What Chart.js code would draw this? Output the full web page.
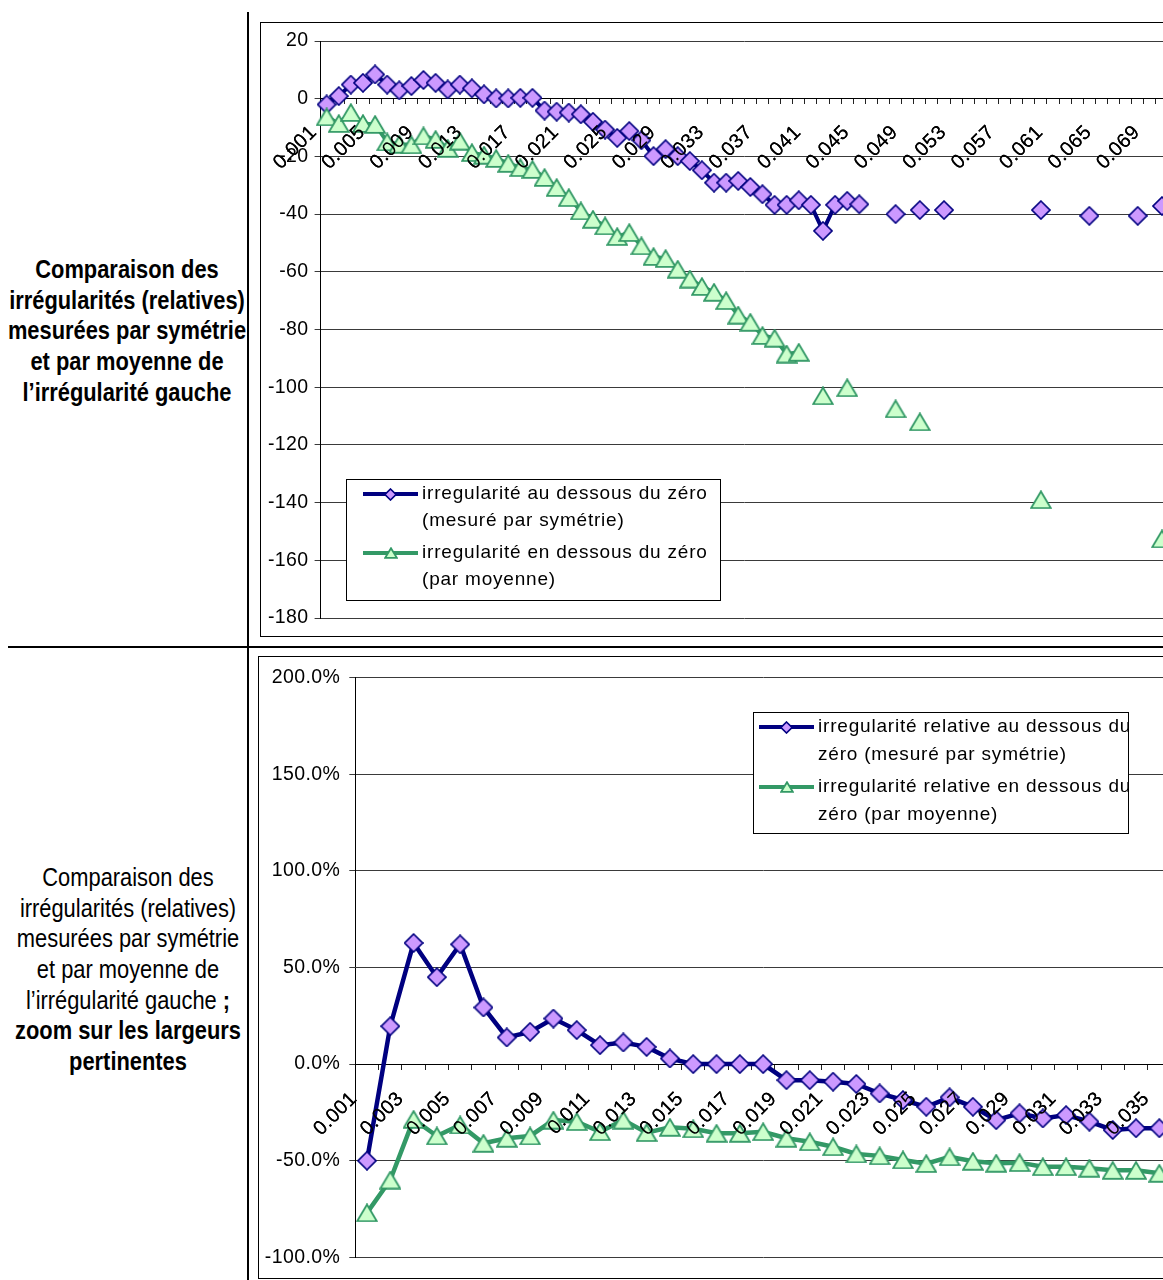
<!DOCTYPE html>
<html>
<head>
<meta charset="utf-8">
<script src="https://cdn.jsdelivr.net/npm/chart.js@4/dist/chart.umd.min.js"></script>
<style>
html, body { margin: 0; padding: 0; background: #fff; overflow: hidden; }
#page { position: relative; width: 1163px; height: 1280px; overflow: hidden; }
.vline { position: absolute; left: 247px; top: 12px; width: 2px; height: 1268px; background: #000; }
.hline { position: absolute; left: 8px; top: 646px; width: 1155px; height: 2px; background: #000; }
.side { position: absolute; width: 340px; text-align: center; white-space: nowrap;
  font-family: "Liberation Sans", Arial, sans-serif; font-size: 26.67px; line-height: 30.67px;
  color: #000; transform: scaleX(0.82); transform-origin: 50% 0; }
.box { position: absolute; border: 1px solid #000; background: #fff; }
.box canvas { display: block; }
</style>
</head>
<body>
<div id="page">
  <div class="side" style="left:-43px; top:254px; font-weight:bold;">Comparaison des<br>irrégularités (relatives)<br>mesurées par symétrie<br>et par moyenne de<br>l’irrégularité gauche</div>
  <div class="side" style="left:-42px; top:862px;">Comparaison des<br>irrégularités (relatives)<br>mesurées par symétrie<br>et par moyenne de<br>l’irrégularité gauche <b>;</b><br><b>zoom sur les largeurs</b><br><b>pertinentes</b></div>
  <div class="vline"></div>
  <div class="hline"></div>
  <div class="box" style="left:260px; top:22px;"><canvas id="chart1" width="1000" height="613"></canvas></div>
  <div class="box" style="left:258px; top:656px;"><canvas id="chart2" width="1000" height="621"></canvas></div>
</div>
<script>
// largeurs (axe des categories)
var largeurs1 = ['0.001','0.002','0.003','0.004','0.005','0.006','0.007','0.008','0.009','0.010',
  '0.011','0.012','0.013','0.014','0.015','0.016','0.017','0.018','0.019','0.020',
  '0.021','0.022','0.023','0.024','0.025','0.026','0.027','0.028','0.029','0.030',
  '0.031','0.032','0.033','0.034','0.035','0.036','0.037','0.038','0.039','0.040',
  '0.041','0.042','0.043','0.044','0.045','0.046','0.047','0.048','0.049','0.050',
  '0.051','0.052','0.053','0.054','0.055','0.056','0.057','0.058','0.059','0.060',
  '0.061','0.062','0.063','0.064','0.065','0.066','0.067','0.068','0.069','0.070'];
var largeurs2 = ['0.001','0.002','0.003','0.004','0.005','0.006','0.007','0.008','0.009','0.010',
  '0.011','0.012','0.013','0.014','0.015','0.016','0.017','0.018','0.019','0.020',
  '0.021','0.022','0.023','0.024','0.025','0.026','0.027','0.028','0.029','0.030',
  '0.031','0.032','0.033','0.034','0.035'];

// graphique du haut : irregularites
var symetrie = [-2.0, 0.9, 4.9, 5.5, 8.4, 4.9, 2.9, 4.4, 6.5, 5.5,
  3.2, 4.9, 3.6, 1.5, 0.1, 0.1, 0.3, 0.3, -4.1, -4.5,
  -4.8, -5.4, -8.0, -10.7, -13.6, -11.2, -14.4, -19.9, -17.5, -19.9,
  -21.6, -24.8, -29.1, -29.1, -28.5, -30.6, -33.1, -36.8, -36.8, -35.2,
  -36.8, -45.8, -36.8, -35.4, -36.6, null, null, -40.0, null, -38.6,
  null, -38.6, null, null, null, null, null, null, null, -38.6,
  null, null, null, -40.6, null, null, null, -40.6, null, -37.2];
var moyenne = [-6.3, -8.6, -4.8, -8.6, -8.9, -15.0, -15.8, -16.0, -12.9, -14.1,
  -17.2, -14.7, -18.7, -19.6, -20.7, -22.4, -23.9, -24.5, -27.3, -30.8,
  -34.3, -38.9, -41.8, -44.1, -47.8, -46.4, -51.0, -54.7, -55.4, -59.1,
  -62.5, -65.1, -67.1, -70.0, -75.0, -77.5, -82.1, -83.0, -88.5, -87.9,
  null, -103.0, null, -100.2, null, null, null, -107.5, null, -112.0,
  null, null, null, null, null, null, null, null, null, -139.0,
  null, null, null, null, null, null, null, null, null, -152.6];

// graphique du bas : irregularites relatives (%)
var relSymetrie = [-50.0, 19.6, 62.7, 45.0, 62.0, 29.3, 13.8, 16.7, 23.6, 17.6,
  9.8, 11.2, 8.9, 2.9, 0.0, 0.0, 0.0, 0.0, -8.3, -8.3,
  -9.1, -10.3, -15.2, -18.6, -22.1, -17.2, -22.1, -29.0, -25.5, -28.1,
  -26.4, -29.8, -34.1, -33.2, -33.2];
var relMoyenne = [-77.0, -60.0, -28.6, -37.2, -31.5, -41.0, -38.4, -37.2, -29.0, -29.8,
  -35.0, -29.0, -35.5, -32.7, -33.5, -35.8, -35.8, -35.0, -38.4, -40.2,
  -42.8, -46.5, -47.5, -49.6, -51.5, -48.0, -50.3, -51.3, -51.0, -53.1,
  -53.1, -53.9, -55.0, -55.0, -56.5];

var legende1 = [['irregularité au dessous du zéro', '(mesuré par symétrie)'],
  ['irregularité en dessous du zéro', '(par moyenne)']];
var legende2 = [['irregularité relative au dessous du', 'zéro (mesuré par symétrie)'],
  ['irregularité relative en dessous du', 'zéro (par moyenne)']];

var police = '"Liberation Sans", Arial, sans-serif';
var NAVY = '#000080', LAVANDE = '#CC99FF', VERT = '#339966', VERT_CLAIR = '#CCFFCC';

function losange(s) {
  var c = document.createElement('canvas');
  c.width = s; c.height = s;
  var g = c.getContext('2d'), h = s / 2;
  g.beginPath();
  g.moveTo(h, 1); g.lineTo(s - 1, h); g.lineTo(h, s - 1); g.lineTo(1, h);
  g.closePath();
  g.fillStyle = LAVANDE; g.fill();
  g.lineWidth = 1.6; g.strokeStyle = NAVY; g.stroke();
  return c;
}
function triangle(w, hgt) {
  var c = document.createElement('canvas');
  c.width = w; c.height = hgt;
  var g = c.getContext('2d');
  g.beginPath();
  g.moveTo(w / 2, 1.2); g.lineTo(w - 1.2, hgt - 1.2); g.lineTo(1.2, hgt - 1.2);
  g.closePath();
  g.fillStyle = VERT_CLAIR; g.fill();
  g.lineWidth = 1.8; g.strokeStyle = VERT; g.stroke();
  return c;
}
var imgLosange = losange(20), imgTriangle = triangle(22, 19);
var petitLosange = losange(13), petitTriangle = triangle(14, 12);

var espacement = {
  id: 'espacement',
  beforeLayout: function(chart) { chart.ctx.letterSpacing = '0.4px'; },
  beforeDraw: function(chart) { chart.ctx.letterSpacing = '0.4px'; },
  // les etiquettes de l'axe des x passent au-dessus des marques
  afterDatasetsDraw: function(chart) {
    chart.ctx.save();
    chart.scales.x.drawLabels(chart.chartArea);
    chart.ctx.restore();
  }
};

var cadreLegende = {
  id: 'cadreLegende',
  afterDraw: function(chart, args, o) {
    var ctx = chart.ctx;
    ctx.save();
    ctx.fillStyle = '#fff';
    ctx.fillRect(o.x, o.y, o.w, o.h);
    ctx.strokeStyle = '#000'; ctx.lineWidth = 1;
    ctx.strokeRect(o.x + 0.5, o.y + 0.5, o.w, o.h);
    ctx.font = '19px ' + police;
    ctx.letterSpacing = '0.8px';
    ctx.textBaseline = 'middle'; ctx.textAlign = 'left';
    o.textes.forEach(function(lignes, k) {
      var ds = chart.data.datasets[k];
      var y = o.rangs[k];
      ctx.strokeStyle = ds.borderColor; ctx.lineWidth = 4;
      ctx.beginPath(); ctx.moveTo(o.x1, y); ctx.lineTo(o.x2, y); ctx.stroke();
      var m = o.marques[k];
      ctx.drawImage(m, Math.round((o.x1 + o.x2) / 2 - m.width / 2), Math.round(y - m.height / 2));
      ctx.fillStyle = '#000';
      lignes.forEach(function(t, j) { ctx.fillText(t, o.tx, y + j * o.interligne); });
    });
    ctx.restore();
  }
};

function serie(label, data, couleur, img, epaisseur, ordre) {
  return {
    label: label, data: data, borderColor: couleur, backgroundColor: couleur,
    borderWidth: epaisseur, tension: 0, spanGaps: false, order: ordre,
    pointStyle: img, pointRadius: 9, pointHoverRadius: 9
  };
}

function options(cfg) {
  return {
    responsive: false, animation: false, devicePixelRatio: 1,
    layout: { padding: cfg.padding },
    events: [],
    plugins: { legend: { display: false }, tooltip: { enabled: false }, cadreLegende: cfg.legende },
    scales: {
      x: {
        type: 'category', position: { y: 0 }, offset: true,
        grid: { drawOnChartArea: false, drawTicks: true, tickLength: 5, offset: true, color: '#222', lineWidth: 1 },
        border: { display: true, color: '#000', width: 1 },
        ticks: {
          autoSkip: false, minRotation: 45, maxRotation: 45, padding: cfg.xPadding, labelOffset: -13,
          color: '#000', font: { family: police, size: 20 },
          callback: function(v, i) { return i % cfg.pas === 0 ? this.getLabelForValue(v) : ''; }
        }
      },
      y: {
        min: cfg.min, max: cfg.max,
        afterFit: function(s) { s.width = cfg.largeurY; },
        grid: { color: '#3a3a3a', lineWidth: 1, tickLength: 6, drawTicks: true },
        border: { display: true, color: '#000', width: 1 },
        ticks: {
          stepSize: cfg.step, padding: cfg.yPadding, color: '#000',
          font: { family: police, size: 19.5 },
          callback: cfg.format
        }
      }
    }
  };
}

new Chart(document.getElementById('chart1'), {
  type: 'line',
  data: {
    labels: largeurs1,
    datasets: [
      serie(legende1[0].join(' '), symetrie, NAVY, imgLosange, 4, 1),
      serie(legende1[1].join(' '), moyenne, VERT, imgTriangle, 4, 0)
    ]
  },
  options: options({
    padding: { left: 0, top: 18, right: 93, bottom: 18 },
    largeurY: 59.6, min: -180, max: 20, step: 20, pas: 4, xPadding: 17, yPadding: 6,
    format: function(v) { return v; },
    legende: { x: 85, y: 456, w: 374, h: 121, x1: 102, x2: 157, tx: 161, rangs: [471, 530],
      interligne: 27, textes: legende1, marques: [petitLosange, petitTriangle] }
  }),
  plugins: [espacement, cadreLegende]
});

new Chart(document.getElementById('chart2'), {
  type: 'line',
  data: {
    labels: largeurs2,
    datasets: [
      serie(legende2[0].join(' '), relSymetrie, NAVY, imgLosange, 4.5, 1),
      serie(legende2[1].join(' '), relMoyenne, VERT, imgTriangle, 4.5, 0)
    ]
  },
  options: options({
    padding: { left: 0, top: 18, right: 88, bottom: 20 },
    largeurY: 96.3, min: -100, max: 200, step: 50, pas: 2, xPadding: 18, yPadding: 9,
    format: function(v) { return v.toFixed(1) + '%'; },
    legende: { x: 494, y: 55, w: 375, h: 121, x1: 500, x2: 555, tx: 559, rangs: [70, 130],
      interligne: 28, textes: legende2, marques: [petitLosange, petitTriangle] }
  }),
  plugins: [espacement, cadreLegende]
});
</script>
</body>
</html>
